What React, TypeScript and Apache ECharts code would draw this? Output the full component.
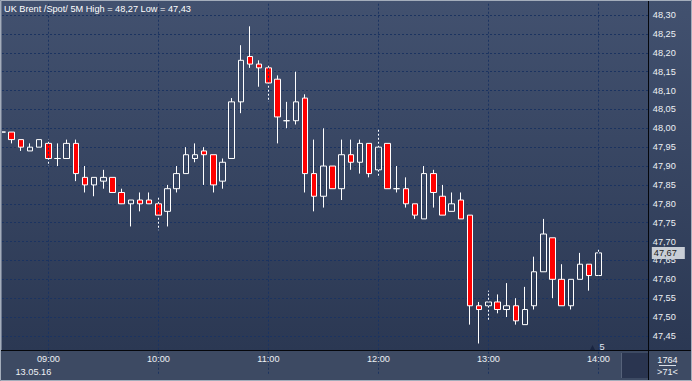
import React, { useEffect, useRef } from 'react';
import * as echarts from 'echarts';

const categories = [
  '08:35', '08:40', '08:45', '08:50', '08:55',
  '09:00', '09:05', '09:10', '09:15', '09:20', '09:25', '09:30', '09:35', '09:40', '09:45', '09:50', '09:55',
  '10:00', '10:05', '10:10', '10:15', '10:20', '10:25', '10:30', '10:35', '10:40', '10:45', '10:50', '10:55',
  '11:00', '11:05', '11:10', '11:15', '11:20', '11:25', '11:30', '11:35', '11:40', '11:45', '11:50', '11:55',
  '12:00', '12:05', '12:10', '12:15', '12:20', '12:25', '12:30', '12:35', '12:40', '12:45', '12:50', '12:55',
  '13:00', '13:05', '13:10', '13:15', '13:20', '13:25', '13:30', '13:35', '13:40', '13:45', '13:50', '13:55',
  '14:00', '14:05', '14:10', '14:15', '14:20', '14:25',
];

const opens = [
  47.99, 47.99, 47.97, 47.94, 47.95, 47.96, 47.92, 47.92, 47.96, 47.87,
  47.85, 47.86, 47.87, 47.83, 47.80, 47.81, 47.81, 47.80, 47.78, 47.84,
  47.88, 47.92, 47.94, 47.93, 47.86, 47.92, 48.07, 48.19, 48.17, 48.16,
  48.13, 48.02, 48.02, 48.08, 47.88, 47.82, 47.90, 47.84, 47.93, 47.91,
  47.96, 47.89, 47.96, 47.84, 47.84, 47.80, 47.76, 47.88, 47.82, 47.78,
  47.81, 47.77, 47.53, 47.53, 47.54, 47.52, 47.53, 47.48, 47.53, 47.62,
  47.71, 47.60, 47.53, 47.60, 47.64, 47.61,
];
const closes = [
  47.99, 47.97, 47.95, 47.95, 47.97, 47.92, 47.92, 47.96, 47.88, 47.85,
  47.87, 47.87, 47.83, 47.80, 47.81, 47.80, 47.80, 47.77, 47.84, 47.88,
  47.93, 47.93, 47.93, 47.85, 47.91, 48.07, 48.18, 48.17, 48.16, 48.12,
  48.03, 48.02, 48.07, 47.88, 47.82, 47.90, 47.84, 47.93, 47.91, 47.96,
  47.88, 47.95, 47.84, 47.84, 47.80, 47.77, 47.88, 47.83, 47.77, 47.80,
  47.76, 47.53, 47.52, 47.54, 47.52, 47.53, 47.49, 47.52, 47.62, 47.72,
  47.60, 47.53, 47.60, 47.64, 47.61, 47.67,
];
const lows = [
  47.99, 47.96, 47.94, 47.94, 47.95, 47.90, 47.90, 47.92, 47.86, 47.83,
  47.82, 47.84, 47.83, 47.80, 47.74, 47.78, 47.80, 47.73, 47.74, 47.83,
  47.88, 47.91, 47.85, 47.83, 47.84, 47.92, 48.04, 48.16, 48.11, 48.07,
  47.96, 48.00, 48.01, 47.83, 47.78, 47.79, 47.84, 47.81, 47.89, 47.88,
  47.87, 47.87, 47.84, 47.83, 47.79, 47.76, 47.76, 47.79, 47.77, 47.78,
  47.76, 47.48, 47.43, 47.49, 47.51, 47.50, 47.48, 47.48, 47.52, 47.62,
  47.55, 47.53, 47.52, 47.60, 47.57, 47.61,
];
const highs = [
  47.99, 47.99, 47.97, 47.96, 47.97, 47.97, 47.96, 47.97, 47.97, 47.90,
  47.87, 47.89, 47.87, 47.84, 47.81, 47.83, 47.83, 47.82, 47.85, 47.90,
  47.95, 47.96, 47.95, 47.93, 47.92, 48.08, 48.22, 48.27, 48.18, 48.17,
  48.14, 48.07, 48.15, 48.09, 47.97, 48.00, 47.90, 47.97, 47.97, 47.97,
  47.96, 48.00, 47.96, 47.90, 47.87, 47.80, 47.90, 47.89, 47.85, 47.83,
  47.83, 47.77, 47.54, 47.57, 47.56, 47.59, 47.55, 47.58, 47.66, 47.76,
  47.71, 47.64, 47.60, 47.67, 47.64, 47.68,
];

const hourTicks = ['09:00', '10:00', '11:00', '12:00', '13:00', '14:00'];
const priceLabelRange = [47.45, 48.3];
const instrumentName = 'UK Brent /Spot/ 5M';
const dateLabel = '13.05.16';
const counterLabel = '1764';
const indicatorLabel = '5';

const fmt = (v: number) => v.toFixed(2).replace('.', ',');

// the chart canvas starts 2px left of the page so that the first candle is cut by the frame
const OFFX = 2;
const px = (x: number) => x + OFFX;

export default function App() {
  const ref = useRef<HTMLDivElement>(null);

  useEffect(() => {
    const chart = echarts.init(ref.current!, null, { renderer: 'svg' });
    const data = opens.map((o, i) => [o, closes[i], lows[i], highs[i]]);
    const hi = Math.max(...highs);
    const lo = Math.min(...lows);
    const last = closes[closes.length - 1];
    const font = 'Liberation Sans, Arial, sans-serif';
    const fs = 9.2;
    const txt = '#eef1f5';
    const gridColor = '#1b3360';

    chart.setOption({
      animation: false,
      backgroundColor: {
        type: 'linear', x: 0, y: 0, x2: 0, y2: 1,
        colorStops: [
          { offset: 0, color: '#42516f' },
          { offset: 0.92, color: '#2b3853' },
          { offset: 1, color: '#2b3853' },
        ],
      },
      // plot scale: 0.05 per 18.88px; the part below y=350 is hidden under the time panel
      grid: { left: 0, top: 3.67, width: 650.83, height: 370.05, containLabel: false },
      xAxis: {
        type: 'category',
        data: categories,
        boundaryGap: true,
        z: 10,
        offset: -20.2,
        axisLine: { show: false },
        axisTick: { show: false },
        splitLine: { show: false },
        axisLabel: {
          interval: (_i: number, v: string) => hourTicks.includes(v),
          color: txt,
          fontSize: fs,
          fontFamily: font,
          margin: 1,
        },
      },
      yAxis: {
        type: 'value',
        position: 'right',
        min: 47.35,
        max: 48.33,
        interval: 0.05,
        axisLine: { show: false },
        axisTick: { show: false },
        axisLabel: {
          formatter: (v: number) =>
            v < priceLabelRange[0] - 0.001 || v > priceLabelRange[1] + 0.001 ? '' : fmt(v),
          color: txt,
          fontSize: fs,
          fontFamily: font,
          margin: 4,
        },
        splitLine: {
          showMaxLine: false,
          lineStyle: { color: gridColor, type: [2, 2], width: 1 },
        },
      },
      series: [
        {
          type: 'line',
          data: [],
          z: 1,
          silent: true,
          markLine: {
            silent: true,
            symbol: 'none',
            label: { show: false },
            lineStyle: { color: gridColor, type: [2, 2], width: 1 },
            data: hourTicks.map((h) => ({ xAxis: categories.indexOf(h) })),
          },
        },
        {
          type: 'candlestick',
          data,
          barWidth: 6,
          z: 2,
          itemStyle: {
            color: 'rgba(0,0,0,0)',
            color0: '#ff0000',
            borderColor: '#ffffff',
            borderColor0: '#ffffff',
            borderColorDoji: '#ffffff',
            borderWidth: 1,
          },
          markLine: {
            silent: true,
            symbol: 'none',
            z: 20,
            data: [
              {
                yAxis: last,
                lineStyle: { color: 'rgba(0,0,0,0)', width: 0 },
                label: {
                  show: true,
                  position: 'end',
                  formatter: fmt(last),
                  backgroundColor: '#c9ced6',
                  color: '#1b1b1b',
                  opacity: 1,
                  padding: [2, 8, 1, 2],
                  distance: 3,
                  fontSize: fs,
                  fontFamily: font,
                },
              },
            ],
          },
        },
      ],
      graphic: [
        { type: 'rect', silent: true, z: 5, shape: { x: 0, y: 351, width: 700, height: 30 }, style: { fill: '#3d4a63' } },
        { type: 'rect', silent: true, z: 6, shape: { x: px(622), y: 353, width: 26, height: 25 }, style: { fill: '#2a3550' } },
        { type: 'line', silent: true, z: 6, shape: { x1: px(621.5), y1: 353, x2: px(621.5), y2: 378 }, style: { stroke: '#56627a', lineWidth: 1 } },
        { type: 'line', silent: true, z: 7, shape: { x1: 0, y1: 350.5, x2: 700, y2: 350.5 }, style: { stroke: '#05070c', lineWidth: 1 } },
        { type: 'line', silent: true, z: 7, shape: { x1: px(648.5), y1: 0, x2: px(648.5), y2: 381 }, style: { stroke: '#05070c', lineWidth: 1 } },
        { type: 'rect', silent: true, z: 8, shape: { x: px(0.5), y: 0.5, width: 691, height: 380 }, style: { fill: 'none', stroke: '#a4adbb', lineWidth: 1 } },
        { type: 'line', silent: true, z: 8, shape: { x1: px(1.5), y1: 1, x2: px(1.5), y2: 350 }, style: { stroke: '#6f7a90', lineWidth: 1 } },
        {
          type: 'text', silent: true, z: 8, x: px(4), y: 8.5,
          style: { text: `${instrumentName} High = ${fmt(hi)} Low = ${fmt(lo)}`, fill: '#ffffff', fontSize: fs, fontFamily: font, verticalAlign: 'middle' },
        },
        {
          type: 'text', silent: true, z: 10, x: px(15.5), y: 371.5,
          style: { text: dateLabel, fill: txt, fontSize: fs, fontFamily: font, verticalAlign: 'middle' },
        },
        {
          type: 'polygon', silent: true, z: 8,
          shape: { points: [[px(590), 350], [px(595), 350], [px(592.5), 345]] }, style: { fill: '#1a2540' },
        },
        {
          type: 'text', silent: true, z: 8, x: px(599.5), y: 346.5,
          style: { text: indicatorLabel, fill: '#e0e8f4', fontSize: fs, fontFamily: font, verticalAlign: 'middle' },
        },
        {
          type: 'text', silent: true, z: 10, x: px(667.5), y: 360,
          style: { text: counterLabel, fill: txt, fontSize: fs, fontFamily: font, align: 'center', verticalAlign: 'middle' },
        },
        { type: 'line', silent: true, z: 10, shape: { x1: px(659), y1: 365.5, x2: px(676), y2: 365.5 }, style: { stroke: '#d9dee6', lineWidth: 1 } },
        {
          type: 'text', silent: true, z: 10, x: px(667.5), y: 372,
          style: { text: `>${categories.length}<`, fill: txt, fontSize: fs, fontFamily: font, align: 'center', verticalAlign: 'middle' },
        },
      ],
    });

    return () => chart.dispose();
  }, []);

  return <div ref={ref} style={{ position: 'fixed', left: -OFFX, top: 0, width: 692 + OFFX, height: 381 }} />;
}
